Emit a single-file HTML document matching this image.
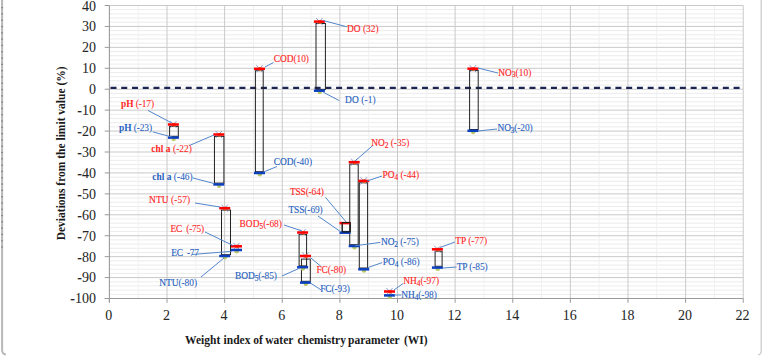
<!DOCTYPE html>
<html><head><meta charset="utf-8"><style>
html,body{margin:0;padding:0;background:#fff;}
body{width:763px;height:356px;position:relative;overflow:hidden;font-family:"Liberation Serif",serif;}
</style></head><body>
<svg width="763" height="356" viewBox="0 0 763 356" style="position:absolute;left:0;top:0"><rect x="0" y="0" width="763" height="356" fill="#ffffff"/><path d="M2.1,0 L2.1,350 Q2.1,354 6,354.5" stroke="#b8b8b8" stroke-width="2.0" fill="none"/><rect x="1.1" y="7.0" width="1.9" height="1.3" fill="#7a7a7a" opacity="0.8"/><rect x="1.1" y="13.3" width="1.9" height="1.3" fill="#7a7a7a" opacity="0.8"/><rect x="1.1" y="19.6" width="1.9" height="1.3" fill="#7a7a7a" opacity="0.8"/><rect x="1.1" y="25.9" width="1.9" height="1.3" fill="#7a7a7a" opacity="0.8"/><rect x="1.1" y="32.2" width="1.9" height="1.3" fill="#7a7a7a" opacity="0.8"/><rect x="1.1" y="38.5" width="1.9" height="1.3" fill="#7a7a7a" opacity="0.8"/><rect x="1.1" y="44.8" width="1.9" height="1.3" fill="#7a7a7a" opacity="0.8"/><rect x="1.1" y="51.1" width="1.9" height="1.3" fill="#7a7a7a" opacity="0.8"/><rect x="1.1" y="57.4" width="1.9" height="1.3" fill="#7a7a7a" opacity="0.8"/><rect x="1.1" y="63.7" width="1.9" height="1.3" fill="#7a7a7a" opacity="0.8"/><rect x="1.1" y="70.0" width="1.9" height="1.3" fill="#7a7a7a" opacity="0.8"/><rect x="1.1" y="76.3" width="1.9" height="1.3" fill="#7a7a7a" opacity="0.8"/><rect x="1.1" y="82.6" width="1.9" height="1.3" fill="#7a7a7a" opacity="0.8"/><rect x="1.1" y="88.9" width="1.9" height="1.3" fill="#7a7a7a" opacity="0.8"/><rect x="1.1" y="95.2" width="1.9" height="1.3" fill="#7a7a7a" opacity="0.8"/><rect x="1.1" y="101.5" width="1.9" height="1.3" fill="#7a7a7a" opacity="0.8"/><rect x="1.1" y="107.8" width="1.9" height="1.3" fill="#7a7a7a" opacity="0.8"/><rect x="1.1" y="114.1" width="1.9" height="1.3" fill="#7a7a7a" opacity="0.8"/><rect x="1.1" y="120.4" width="1.9" height="1.3" fill="#7a7a7a" opacity="0.8"/><rect x="1.1" y="126.7" width="1.9" height="1.3" fill="#7a7a7a" opacity="0.8"/><rect x="1.1" y="133.0" width="1.9" height="1.3" fill="#7a7a7a" opacity="0.8"/><rect x="1.1" y="139.3" width="1.9" height="1.3" fill="#7a7a7a" opacity="0.8"/><rect x="1.1" y="145.6" width="1.9" height="1.3" fill="#7a7a7a" opacity="0.8"/><rect x="1.1" y="151.9" width="1.9" height="1.3" fill="#7a7a7a" opacity="0.8"/><rect x="1.1" y="158.2" width="1.9" height="1.3" fill="#7a7a7a" opacity="0.8"/><rect x="1.1" y="164.5" width="1.9" height="1.3" fill="#7a7a7a" opacity="0.8"/><rect x="1.1" y="170.8" width="1.9" height="1.3" fill="#7a7a7a" opacity="0.8"/><rect x="1.1" y="177.1" width="1.9" height="1.3" fill="#7a7a7a" opacity="0.8"/><rect x="1.1" y="183.4" width="1.9" height="1.3" fill="#7a7a7a" opacity="0.8"/><rect x="1.1" y="189.7" width="1.9" height="1.3" fill="#7a7a7a" opacity="0.8"/><rect x="1.1" y="196.0" width="1.9" height="1.3" fill="#7a7a7a" opacity="0.8"/><rect x="1.1" y="202.3" width="1.9" height="1.3" fill="#7a7a7a" opacity="0.8"/><rect x="1.1" y="208.6" width="1.9" height="1.3" fill="#7a7a7a" opacity="0.8"/><rect x="1.1" y="214.9" width="1.9" height="1.3" fill="#7a7a7a" opacity="0.8"/><rect x="1.1" y="221.2" width="1.9" height="1.3" fill="#7a7a7a" opacity="0.8"/><rect x="1.1" y="227.5" width="1.9" height="1.3" fill="#7a7a7a" opacity="0.8"/><rect x="1.1" y="233.8" width="1.9" height="1.3" fill="#7a7a7a" opacity="0.8"/><rect x="1.1" y="240.1" width="1.9" height="1.3" fill="#7a7a7a" opacity="0.8"/><rect x="1.1" y="246.4" width="1.9" height="1.3" fill="#7a7a7a" opacity="0.8"/><path d="M761.2,0 L761.2,351 Q761.2,354.5 758,354.8" stroke="#c8c8c8" stroke-width="1.2" fill="none"/><line x1="109.40" y1="294.32" x2="743.22" y2="294.32" stroke="#ececec" stroke-width="1"/><line x1="109.40" y1="290.13" x2="743.22" y2="290.13" stroke="#ececec" stroke-width="1"/><line x1="109.40" y1="285.95" x2="743.22" y2="285.95" stroke="#ececec" stroke-width="1"/><line x1="109.40" y1="281.76" x2="743.22" y2="281.76" stroke="#ececec" stroke-width="1"/><line x1="109.40" y1="273.39" x2="743.22" y2="273.39" stroke="#ececec" stroke-width="1"/><line x1="109.40" y1="269.21" x2="743.22" y2="269.21" stroke="#ececec" stroke-width="1"/><line x1="109.40" y1="265.02" x2="743.22" y2="265.02" stroke="#ececec" stroke-width="1"/><line x1="109.40" y1="260.83" x2="743.22" y2="260.83" stroke="#ececec" stroke-width="1"/><line x1="109.40" y1="252.46" x2="743.22" y2="252.46" stroke="#ececec" stroke-width="1"/><line x1="109.40" y1="248.28" x2="743.22" y2="248.28" stroke="#ececec" stroke-width="1"/><line x1="109.40" y1="244.09" x2="743.22" y2="244.09" stroke="#ececec" stroke-width="1"/><line x1="109.40" y1="239.90" x2="743.22" y2="239.90" stroke="#ececec" stroke-width="1"/><line x1="109.40" y1="231.53" x2="743.22" y2="231.53" stroke="#ececec" stroke-width="1"/><line x1="109.40" y1="227.35" x2="743.22" y2="227.35" stroke="#ececec" stroke-width="1"/><line x1="109.40" y1="223.16" x2="743.22" y2="223.16" stroke="#ececec" stroke-width="1"/><line x1="109.40" y1="218.98" x2="743.22" y2="218.98" stroke="#ececec" stroke-width="1"/><line x1="109.40" y1="210.60" x2="743.22" y2="210.60" stroke="#ececec" stroke-width="1"/><line x1="109.40" y1="206.42" x2="743.22" y2="206.42" stroke="#ececec" stroke-width="1"/><line x1="109.40" y1="202.23" x2="743.22" y2="202.23" stroke="#ececec" stroke-width="1"/><line x1="109.40" y1="198.05" x2="743.22" y2="198.05" stroke="#ececec" stroke-width="1"/><line x1="109.40" y1="189.68" x2="743.22" y2="189.68" stroke="#ececec" stroke-width="1"/><line x1="109.40" y1="185.49" x2="743.22" y2="185.49" stroke="#ececec" stroke-width="1"/><line x1="109.40" y1="181.30" x2="743.22" y2="181.30" stroke="#ececec" stroke-width="1"/><line x1="109.40" y1="177.12" x2="743.22" y2="177.12" stroke="#ececec" stroke-width="1"/><line x1="109.40" y1="168.75" x2="743.22" y2="168.75" stroke="#ececec" stroke-width="1"/><line x1="109.40" y1="164.56" x2="743.22" y2="164.56" stroke="#ececec" stroke-width="1"/><line x1="109.40" y1="160.37" x2="743.22" y2="160.37" stroke="#ececec" stroke-width="1"/><line x1="109.40" y1="156.19" x2="743.22" y2="156.19" stroke="#ececec" stroke-width="1"/><line x1="109.40" y1="147.82" x2="743.22" y2="147.82" stroke="#ececec" stroke-width="1"/><line x1="109.40" y1="143.63" x2="743.22" y2="143.63" stroke="#ececec" stroke-width="1"/><line x1="109.40" y1="139.45" x2="743.22" y2="139.45" stroke="#ececec" stroke-width="1"/><line x1="109.40" y1="135.26" x2="743.22" y2="135.26" stroke="#ececec" stroke-width="1"/><line x1="109.40" y1="126.89" x2="743.22" y2="126.89" stroke="#ececec" stroke-width="1"/><line x1="109.40" y1="122.70" x2="743.22" y2="122.70" stroke="#ececec" stroke-width="1"/><line x1="109.40" y1="118.52" x2="743.22" y2="118.52" stroke="#ececec" stroke-width="1"/><line x1="109.40" y1="114.33" x2="743.22" y2="114.33" stroke="#ececec" stroke-width="1"/><line x1="109.40" y1="105.96" x2="743.22" y2="105.96" stroke="#ececec" stroke-width="1"/><line x1="109.40" y1="101.77" x2="743.22" y2="101.77" stroke="#ececec" stroke-width="1"/><line x1="109.40" y1="97.59" x2="743.22" y2="97.59" stroke="#ececec" stroke-width="1"/><line x1="109.40" y1="93.40" x2="743.22" y2="93.40" stroke="#ececec" stroke-width="1"/><line x1="109.40" y1="85.03" x2="743.22" y2="85.03" stroke="#ececec" stroke-width="1"/><line x1="109.40" y1="80.84" x2="743.22" y2="80.84" stroke="#ececec" stroke-width="1"/><line x1="109.40" y1="76.66" x2="743.22" y2="76.66" stroke="#ececec" stroke-width="1"/><line x1="109.40" y1="72.47" x2="743.22" y2="72.47" stroke="#ececec" stroke-width="1"/><line x1="109.40" y1="64.10" x2="743.22" y2="64.10" stroke="#ececec" stroke-width="1"/><line x1="109.40" y1="59.92" x2="743.22" y2="59.92" stroke="#ececec" stroke-width="1"/><line x1="109.40" y1="55.73" x2="743.22" y2="55.73" stroke="#ececec" stroke-width="1"/><line x1="109.40" y1="51.54" x2="743.22" y2="51.54" stroke="#ececec" stroke-width="1"/><line x1="109.40" y1="43.17" x2="743.22" y2="43.17" stroke="#ececec" stroke-width="1"/><line x1="109.40" y1="38.99" x2="743.22" y2="38.99" stroke="#ececec" stroke-width="1"/><line x1="109.40" y1="34.80" x2="743.22" y2="34.80" stroke="#ececec" stroke-width="1"/><line x1="109.40" y1="30.61" x2="743.22" y2="30.61" stroke="#ececec" stroke-width="1"/><line x1="109.40" y1="22.24" x2="743.22" y2="22.24" stroke="#ececec" stroke-width="1"/><line x1="109.40" y1="18.06" x2="743.22" y2="18.06" stroke="#ececec" stroke-width="1"/><line x1="109.40" y1="13.87" x2="743.22" y2="13.87" stroke="#ececec" stroke-width="1"/><line x1="109.40" y1="9.69" x2="743.22" y2="9.69" stroke="#ececec" stroke-width="1"/><line x1="138.21" y1="5.50" x2="138.21" y2="298.51" stroke="#f0f0f0" stroke-width="1"/><line x1="195.83" y1="5.50" x2="195.83" y2="298.51" stroke="#f0f0f0" stroke-width="1"/><line x1="253.45" y1="5.50" x2="253.45" y2="298.51" stroke="#f0f0f0" stroke-width="1"/><line x1="311.07" y1="5.50" x2="311.07" y2="298.51" stroke="#f0f0f0" stroke-width="1"/><line x1="368.69" y1="5.50" x2="368.69" y2="298.51" stroke="#f0f0f0" stroke-width="1"/><line x1="426.31" y1="5.50" x2="426.31" y2="298.51" stroke="#f0f0f0" stroke-width="1"/><line x1="483.93" y1="5.50" x2="483.93" y2="298.51" stroke="#f0f0f0" stroke-width="1"/><line x1="541.55" y1="5.50" x2="541.55" y2="298.51" stroke="#f0f0f0" stroke-width="1"/><line x1="599.17" y1="5.50" x2="599.17" y2="298.51" stroke="#f0f0f0" stroke-width="1"/><line x1="656.79" y1="5.50" x2="656.79" y2="298.51" stroke="#f0f0f0" stroke-width="1"/><line x1="714.41" y1="5.50" x2="714.41" y2="298.51" stroke="#f0f0f0" stroke-width="1"/><line x1="109.40" y1="277.58" x2="743.22" y2="277.58" stroke="#c9c9c9" stroke-width="1"/><line x1="109.40" y1="256.65" x2="743.22" y2="256.65" stroke="#c9c9c9" stroke-width="1"/><line x1="109.40" y1="235.72" x2="743.22" y2="235.72" stroke="#c9c9c9" stroke-width="1"/><line x1="109.40" y1="214.79" x2="743.22" y2="214.79" stroke="#c9c9c9" stroke-width="1"/><line x1="109.40" y1="193.86" x2="743.22" y2="193.86" stroke="#c9c9c9" stroke-width="1"/><line x1="109.40" y1="172.93" x2="743.22" y2="172.93" stroke="#c9c9c9" stroke-width="1"/><line x1="109.40" y1="152.00" x2="743.22" y2="152.00" stroke="#c9c9c9" stroke-width="1"/><line x1="109.40" y1="131.07" x2="743.22" y2="131.07" stroke="#c9c9c9" stroke-width="1"/><line x1="109.40" y1="110.15" x2="743.22" y2="110.15" stroke="#c9c9c9" stroke-width="1"/><line x1="109.40" y1="89.22" x2="743.22" y2="89.22" stroke="#c9c9c9" stroke-width="1"/><line x1="109.40" y1="68.29" x2="743.22" y2="68.29" stroke="#c9c9c9" stroke-width="1"/><line x1="109.40" y1="47.36" x2="743.22" y2="47.36" stroke="#c9c9c9" stroke-width="1"/><line x1="109.40" y1="26.43" x2="743.22" y2="26.43" stroke="#c9c9c9" stroke-width="1"/><line x1="109.40" y1="5.50" x2="743.22" y2="5.50" stroke="#c9c9c9" stroke-width="1"/><line x1="167.02" y1="5.50" x2="167.02" y2="298.51" stroke="#cacaca" stroke-width="1"/><line x1="224.64" y1="5.50" x2="224.64" y2="298.51" stroke="#cacaca" stroke-width="1"/><line x1="282.26" y1="5.50" x2="282.26" y2="298.51" stroke="#cacaca" stroke-width="1"/><line x1="339.88" y1="5.50" x2="339.88" y2="298.51" stroke="#cacaca" stroke-width="1"/><line x1="397.50" y1="5.50" x2="397.50" y2="298.51" stroke="#cacaca" stroke-width="1"/><line x1="455.12" y1="5.50" x2="455.12" y2="298.51" stroke="#cacaca" stroke-width="1"/><line x1="512.74" y1="5.50" x2="512.74" y2="298.51" stroke="#cacaca" stroke-width="1"/><line x1="570.36" y1="5.50" x2="570.36" y2="298.51" stroke="#cacaca" stroke-width="1"/><line x1="627.98" y1="5.50" x2="627.98" y2="298.51" stroke="#cacaca" stroke-width="1"/><line x1="685.60" y1="5.50" x2="685.60" y2="298.51" stroke="#cacaca" stroke-width="1"/><line x1="743.22" y1="5.50" x2="743.22" y2="298.51" stroke="#cacaca" stroke-width="1"/><line x1="109.40" y1="5.50" x2="109.40" y2="302.51" stroke="#9a9a9a" stroke-width="1.1"/><line x1="104.70" y1="298.51" x2="743.22" y2="298.51" stroke="#9a9a9a" stroke-width="1.1"/><line x1="104.70" y1="298.51" x2="109.40" y2="298.51" stroke="#9a9a9a" stroke-width="1"/><line x1="104.70" y1="277.58" x2="109.40" y2="277.58" stroke="#9a9a9a" stroke-width="1"/><line x1="104.70" y1="256.65" x2="109.40" y2="256.65" stroke="#9a9a9a" stroke-width="1"/><line x1="104.70" y1="235.72" x2="109.40" y2="235.72" stroke="#9a9a9a" stroke-width="1"/><line x1="104.70" y1="214.79" x2="109.40" y2="214.79" stroke="#9a9a9a" stroke-width="1"/><line x1="104.70" y1="193.86" x2="109.40" y2="193.86" stroke="#9a9a9a" stroke-width="1"/><line x1="104.70" y1="172.93" x2="109.40" y2="172.93" stroke="#9a9a9a" stroke-width="1"/><line x1="104.70" y1="152.00" x2="109.40" y2="152.00" stroke="#9a9a9a" stroke-width="1"/><line x1="104.70" y1="131.07" x2="109.40" y2="131.07" stroke="#9a9a9a" stroke-width="1"/><line x1="104.70" y1="110.15" x2="109.40" y2="110.15" stroke="#9a9a9a" stroke-width="1"/><line x1="104.70" y1="89.22" x2="109.40" y2="89.22" stroke="#9a9a9a" stroke-width="1"/><line x1="104.70" y1="68.29" x2="109.40" y2="68.29" stroke="#9a9a9a" stroke-width="1"/><line x1="104.70" y1="47.36" x2="109.40" y2="47.36" stroke="#9a9a9a" stroke-width="1"/><line x1="104.70" y1="26.43" x2="109.40" y2="26.43" stroke="#9a9a9a" stroke-width="1"/><line x1="104.70" y1="5.50" x2="109.40" y2="5.50" stroke="#9a9a9a" stroke-width="1"/><line x1="109.40" y1="298.51" x2="109.40" y2="302.81" stroke="#9a9a9a" stroke-width="1"/><line x1="167.02" y1="298.51" x2="167.02" y2="302.81" stroke="#9a9a9a" stroke-width="1"/><line x1="224.64" y1="298.51" x2="224.64" y2="302.81" stroke="#9a9a9a" stroke-width="1"/><line x1="282.26" y1="298.51" x2="282.26" y2="302.81" stroke="#9a9a9a" stroke-width="1"/><line x1="339.88" y1="298.51" x2="339.88" y2="302.81" stroke="#9a9a9a" stroke-width="1"/><line x1="397.50" y1="298.51" x2="397.50" y2="302.81" stroke="#9a9a9a" stroke-width="1"/><line x1="455.12" y1="298.51" x2="455.12" y2="302.81" stroke="#9a9a9a" stroke-width="1"/><line x1="512.74" y1="298.51" x2="512.74" y2="302.81" stroke="#9a9a9a" stroke-width="1"/><line x1="570.36" y1="298.51" x2="570.36" y2="302.81" stroke="#9a9a9a" stroke-width="1"/><line x1="627.98" y1="298.51" x2="627.98" y2="302.81" stroke="#9a9a9a" stroke-width="1"/><line x1="685.60" y1="298.51" x2="685.60" y2="302.81" stroke="#9a9a9a" stroke-width="1"/><line x1="743.22" y1="298.51" x2="743.22" y2="302.81" stroke="#9a9a9a" stroke-width="1"/><g font-family="Liberation Serif" font-size="14" fill="#262626" stroke="#262626" stroke-width="0.04"><text x="96" y="303.41" text-anchor="end">-100</text><text x="96" y="282.48" text-anchor="end">-90</text><text x="96" y="261.55" text-anchor="end">-80</text><text x="96" y="240.62" text-anchor="end">-70</text><text x="96" y="219.69" text-anchor="end">-60</text><text x="96" y="198.76" text-anchor="end">-50</text><text x="96" y="177.83" text-anchor="end">-40</text><text x="96" y="156.90" text-anchor="end">-30</text><text x="96" y="135.97" text-anchor="end">-20</text><text x="96" y="115.05" text-anchor="end">-10</text><text x="96" y="94.12" text-anchor="end">0</text><text x="96" y="73.19" text-anchor="end">10</text><text x="96" y="52.26" text-anchor="end">20</text><text x="96" y="31.33" text-anchor="end">30</text><text x="96" y="11.40" text-anchor="end">40</text><text x="108.80" y="319.8" text-anchor="middle">0</text><text x="166.42" y="319.8" text-anchor="middle">2</text><text x="224.04" y="319.8" text-anchor="middle">4</text><text x="281.66" y="319.8" text-anchor="middle">6</text><text x="339.28" y="319.8" text-anchor="middle">8</text><text x="396.90" y="319.8" text-anchor="middle">10</text><text x="454.52" y="319.8" text-anchor="middle">12</text><text x="512.14" y="319.8" text-anchor="middle">14</text><text x="569.76" y="319.8" text-anchor="middle">16</text><text x="627.38" y="319.8" text-anchor="middle">18</text><text x="685.00" y="319.8" text-anchor="middle">20</text><text x="742.62" y="319.8" text-anchor="middle">22</text></g><text y="343.5" font-family="Liberation Serif" font-weight="bold" font-size="11.5" fill="#1a1a1a"><tspan x="185.1">Weight</tspan><tspan x="223.6">index</tspan><tspan x="253.3">of</tspan><tspan x="265.3">water</tspan><tspan x="297.4">chemistry</tspan><tspan x="348.0">parameter</tspan><tspan x="404.0">(WI)</tspan></text><text transform="translate(65.4,240.3) rotate(-90)" x="0" y="0" font-family="Liberation Serif" font-weight="bold" font-size="11.5" fill="#1a1a1a">Deviations from the limit value (%)</text><line x1="110.5" y1="87.9" x2="742" y2="87.9" stroke="#1c2552" stroke-width="2.2" stroke-dasharray="6 4.743"/><rect x="301.45" y="259.10" width="8.85" height="22.20" fill="none" stroke="#222222" stroke-width="1.0"/><rect x="169.60" y="126.40" width="8.70" height="9.90" fill="none" stroke="#222222" stroke-width="1.0"/><rect x="214.45" y="136.40" width="9.45" height="46.70" fill="none" stroke="#222222" stroke-width="1.0"/><rect x="221.50" y="210.10" width="9.00" height="44.60" fill="none" stroke="#222222" stroke-width="1.0"/><rect x="255.40" y="70.70" width="7.80" height="101.00" fill="none" stroke="#222222" stroke-width="1.0"/><rect x="316.00" y="23.50" width="9.40" height="65.90" fill="none" stroke="#222222" stroke-width="1.0"/><rect x="299.10" y="234.40" width="7.50" height="31.50" fill="none" stroke="#222222" stroke-width="1.0"/><rect x="342.20" y="223.30" width="8.00" height="8.10" fill="none" stroke="#222222" stroke-width="1.0"/><rect x="349.75" y="164.10" width="8.45" height="80.60" fill="none" stroke="#222222" stroke-width="1.0"/><rect x="359.30" y="182.80" width="8.30" height="85.20" fill="none" stroke="#222222" stroke-width="1.0"/><rect x="435.10" y="251.20" width="7.00" height="15.10" fill="none" stroke="#222222" stroke-width="1.0"/><rect x="469.60" y="70.60" width="8.60" height="58.90" fill="none" stroke="#222222" stroke-width="1.0"/><path d="M170.20,120.90 L176.60,128.10 M176.60,120.90 L170.20,128.10" stroke="#7c88c0" stroke-width="0.8" fill="none"/><circle cx="174.00" cy="124.80" r="2.0" fill="#e8772e"/><rect x="167.90" y="123.25" width="11.00" height="2.5" fill="#ff0000"/><circle cx="173.70" cy="138.90" r="2.2" fill="#b9c964"/><rect x="167.90" y="136.35" width="11.00" height="2.5" fill="#0a3fbf"/><path d="M215.60,130.90 L222.00,138.10 M222.00,130.90 L215.60,138.10" stroke="#7c88c0" stroke-width="0.8" fill="none"/><circle cx="219.40" cy="134.80" r="2.0" fill="#e8772e"/><rect x="213.30" y="133.25" width="11.00" height="2.5" fill="#ff0000"/><circle cx="219.10" cy="185.70" r="2.2" fill="#b9c964"/><rect x="213.30" y="183.15" width="11.00" height="2.5" fill="#0a3fbf"/><path d="M221.50,204.60 L227.90,211.80 M227.90,204.60 L221.50,211.80" stroke="#7c88c0" stroke-width="0.8" fill="none"/><circle cx="225.30" cy="208.50" r="2.0" fill="#e8772e"/><rect x="219.20" y="206.95" width="11.00" height="2.5" fill="#ff0000"/><circle cx="225.00" cy="257.30" r="2.2" fill="#b9c964"/><rect x="219.20" y="254.75" width="11.00" height="2.5" fill="#0a3fbf"/><path d="M233.30,242.70 L239.70,249.90 M239.70,242.70 L233.30,249.90" stroke="#7c88c0" stroke-width="0.8" fill="none"/><circle cx="237.10" cy="246.60" r="2.0" fill="#e8772e"/><rect x="231.00" y="245.05" width="11.00" height="2.5" fill="#ff0000"/><circle cx="236.80" cy="251.30" r="2.2" fill="#b9c964"/><rect x="231.00" y="248.75" width="11.00" height="2.5" fill="#0a3fbf"/><path d="M256.30,65.20 L262.70,72.40 M262.70,65.20 L256.30,72.40" stroke="#7c88c0" stroke-width="0.8" fill="none"/><circle cx="260.10" cy="69.10" r="2.0" fill="#e8772e"/><rect x="254.00" y="67.55" width="11.00" height="2.5" fill="#ff0000"/><circle cx="259.80" cy="174.30" r="2.2" fill="#b9c964"/><rect x="254.00" y="171.75" width="11.00" height="2.5" fill="#0a3fbf"/><path d="M316.20,18.00 L322.60,25.20 M322.60,18.00 L316.20,25.20" stroke="#7c88c0" stroke-width="0.8" fill="none"/><circle cx="320.00" cy="21.90" r="2.0" fill="#e8772e"/><rect x="313.90" y="20.35" width="11.00" height="2.5" fill="#ff0000"/><circle cx="319.70" cy="92.00" r="2.2" fill="#b9c964"/><rect x="313.90" y="89.45" width="11.00" height="2.5" fill="#0a3fbf"/><path d="M299.40,228.90 L305.80,236.10 M305.80,228.90 L299.40,236.10" stroke="#7c88c0" stroke-width="0.8" fill="none"/><circle cx="303.20" cy="232.80" r="2.0" fill="#e8772e"/><rect x="297.10" y="231.25" width="11.00" height="2.5" fill="#ff0000"/><circle cx="302.90" cy="268.50" r="2.2" fill="#b9c964"/><rect x="297.10" y="265.95" width="11.00" height="2.5" fill="#0a3fbf"/><path d="M302.30,252.40 L308.70,259.60 M308.70,252.40 L302.30,259.60" stroke="#7c88c0" stroke-width="0.8" fill="none"/><circle cx="306.10" cy="256.30" r="2.0" fill="#e8772e"/><rect x="300.00" y="254.75" width="11.00" height="2.5" fill="#ff0000"/><circle cx="305.80" cy="283.90" r="2.2" fill="#b9c964"/><rect x="300.00" y="281.35" width="11.00" height="2.5" fill="#0a3fbf"/><rect x="339.50" y="221.85" width="11.00" height="2.5" fill="#ff0000"/><rect x="339.50" y="231.45" width="11.00" height="2.5" fill="#0a3fbf"/><path d="M351.00,158.60 L357.40,165.80 M357.40,158.60 L351.00,165.80" stroke="#7c88c0" stroke-width="0.8" fill="none"/><circle cx="354.80" cy="162.50" r="2.0" fill="#e8772e"/><rect x="348.70" y="160.95" width="11.00" height="2.5" fill="#ff0000"/><circle cx="354.50" cy="247.30" r="2.2" fill="#b9c964"/><rect x="348.70" y="244.75" width="11.00" height="2.5" fill="#0a3fbf"/><path d="M360.50,177.30 L366.90,184.50 M366.90,177.30 L360.50,184.50" stroke="#7c88c0" stroke-width="0.8" fill="none"/><circle cx="364.30" cy="181.20" r="2.0" fill="#e8772e"/><rect x="358.20" y="179.65" width="11.00" height="2.5" fill="#ff0000"/><circle cx="364.00" cy="270.60" r="2.2" fill="#b9c964"/><rect x="358.20" y="268.05" width="11.00" height="2.5" fill="#0a3fbf"/><path d="M386.30,287.90 L392.70,295.10 M392.70,287.90 L386.30,295.10" stroke="#7c88c0" stroke-width="0.8" fill="none"/><circle cx="390.10" cy="291.80" r="2.0" fill="#e8772e"/><rect x="384.00" y="290.25" width="11.00" height="2.5" fill="#ff0000"/><circle cx="389.80" cy="296.70" r="2.2" fill="#b9c964"/><rect x="384.00" y="294.15" width="11.00" height="2.5" fill="#0a3fbf"/><path d="M434.20,245.70 L440.60,252.90 M440.60,245.70 L434.20,252.90" stroke="#7c88c0" stroke-width="0.8" fill="none"/><circle cx="438.00" cy="249.60" r="2.0" fill="#e8772e"/><rect x="431.90" y="248.05" width="11.00" height="2.5" fill="#ff0000"/><circle cx="437.70" cy="268.90" r="2.2" fill="#b9c964"/><rect x="431.90" y="266.35" width="11.00" height="2.5" fill="#0a3fbf"/><path d="M469.70,65.10 L476.10,72.30 M476.10,65.10 L469.70,72.30" stroke="#7c88c0" stroke-width="0.8" fill="none"/><circle cx="473.50" cy="69.00" r="2.0" fill="#e8772e"/><rect x="467.40" y="67.45" width="11.00" height="2.5" fill="#ff0000"/><circle cx="473.20" cy="132.10" r="2.2" fill="#b9c964"/><rect x="467.40" y="129.55" width="11.00" height="2.5" fill="#0a3fbf"/><rect x="342.2" y="222.6" width="8.0" height="9.3" fill="none" stroke="#1a1a1a" stroke-width="1.1"/><line x1="147.9" y1="110.4" x2="171.8" y2="123.0" stroke="#5286cc" stroke-width="1"/><line x1="152.8" y1="131.9" x2="171.8" y2="137.0" stroke="#5286cc" stroke-width="1"/><line x1="189.2" y1="145.6" x2="214.0" y2="135.0" stroke="#5286cc" stroke-width="1"/><line x1="193.0" y1="178.0" x2="214.0" y2="183.5" stroke="#5286cc" stroke-width="1"/><line x1="195.0" y1="203.0" x2="220.0" y2="207.0" stroke="#5286cc" stroke-width="1"/><line x1="205.0" y1="232.0" x2="233.0" y2="245.5" stroke="#5286cc" stroke-width="1"/><line x1="192.0" y1="254.5" x2="232.0" y2="251.3" stroke="#5286cc" stroke-width="1"/><line x1="201.0" y1="277.0" x2="224.0" y2="258.0" stroke="#5286cc" stroke-width="1"/><line x1="265.0" y1="67.0" x2="273.5" y2="62.5" stroke="#5286cc" stroke-width="1"/><line x1="263.5" y1="172.0" x2="277.0" y2="166.5" stroke="#5286cc" stroke-width="1"/><line x1="323.2" y1="20.5" x2="346.8" y2="26.8" stroke="#5286cc" stroke-width="1"/><line x1="323.3" y1="92.3" x2="339.3" y2="100.6" stroke="#5286cc" stroke-width="1"/><line x1="284.0" y1="225.0" x2="302.0" y2="231.0" stroke="#5286cc" stroke-width="1"/><line x1="282.0" y1="276.0" x2="300.0" y2="268.0" stroke="#5286cc" stroke-width="1"/><line x1="310.7" y1="257.8" x2="320.9" y2="266.4" stroke="#5286cc" stroke-width="1"/><line x1="310.1" y1="282.8" x2="320.9" y2="289.8" stroke="#5286cc" stroke-width="1"/><line x1="325.5" y1="197.4" x2="346.2" y2="222.0" stroke="#5286cc" stroke-width="1"/><line x1="318.0" y1="216.0" x2="341.0" y2="232.0" stroke="#5286cc" stroke-width="1"/><line x1="372.8" y1="145.5" x2="355.0" y2="161.0" stroke="#5286cc" stroke-width="1"/><line x1="382.0" y1="176.0" x2="367.0" y2="181.0" stroke="#5286cc" stroke-width="1"/><line x1="355.0" y1="245.8" x2="380.3" y2="242.4" stroke="#5286cc" stroke-width="1"/><line x1="367.6" y1="267.7" x2="382.2" y2="262.6" stroke="#5286cc" stroke-width="1"/><line x1="394.0" y1="290.0" x2="403.0" y2="283.5" stroke="#5286cc" stroke-width="1"/><line x1="394.0" y1="295.0" x2="401.5" y2="295.0" stroke="#5286cc" stroke-width="1"/><line x1="440.0" y1="247.5" x2="455.0" y2="242.0" stroke="#5286cc" stroke-width="1"/><line x1="443.0" y1="268.0" x2="456.7" y2="267.0" stroke="#5286cc" stroke-width="1"/><line x1="478.0" y1="68.0" x2="498.0" y2="73.0" stroke="#5286cc" stroke-width="1"/><line x1="478.0" y1="131.0" x2="497.0" y2="129.0" stroke="#5286cc" stroke-width="1"/><g font-family="Liberation Serif" font-size="9.4" style="white-space:pre"><text x="121.0" y="106.5" fill="#ff1e1e" stroke="#ff1e1e" stroke-width="0.06" xml:space="preserve" textLength="33.1" lengthAdjust="spacing"><tspan font-weight="bold" stroke-width="0">pH</tspan><tspan> (-17)</tspan></text><text x="119.1" y="130.6" fill="#1f5fc0" stroke="#1f5fc0" stroke-width="0.06" xml:space="preserve" textLength="32.9" lengthAdjust="spacing"><tspan font-weight="bold" stroke-width="0">pH</tspan><tspan> (-23)</tspan></text><text x="151.3" y="151.5" fill="#ff1e1e" stroke="#ff1e1e" stroke-width="0.06" xml:space="preserve" textLength="40.6" lengthAdjust="spacing"><tspan font-weight="bold" stroke-width="0">chl a</tspan><tspan> (-22)</tspan></text><text x="152.3" y="179.5" fill="#1f5fc0" stroke="#1f5fc0" stroke-width="0.06" xml:space="preserve" textLength="40.4" lengthAdjust="spacing"><tspan font-weight="bold" stroke-width="0">chl a</tspan><tspan> (-46)</tspan></text><text x="149.1" y="202.7" fill="#ff1e1e" stroke="#ff1e1e" stroke-width="0.06" xml:space="preserve" textLength="41.0" lengthAdjust="spacing"><tspan font-weight="normal" stroke-width="0.15">NTU</tspan><tspan> (-57)</tspan></text><text x="170.4" y="231.9" fill="#ff1e1e" stroke="#ff1e1e" stroke-width="0.06" xml:space="preserve" textLength="33.8" lengthAdjust="spacing"><tspan font-weight="normal" stroke-width="0.15">EC</tspan><tspan>  (-75)</tspan></text><text x="171.2" y="256.3" fill="#1f5fc0" stroke="#1f5fc0" stroke-width="0.06" xml:space="preserve" textLength="27.7" lengthAdjust="spacing"><tspan font-weight="normal" stroke-width="0.15">EC</tspan><tspan>  -77</tspan></text><text x="159.2" y="285.7" fill="#1f5fc0" stroke="#1f5fc0" stroke-width="0.06" xml:space="preserve" textLength="37.8" lengthAdjust="spacing"><tspan font-weight="normal" stroke-width="0.15">NTU</tspan><tspan>(-80)</tspan></text><text x="273.7" y="61.6" fill="#ff1e1e" stroke="#ff1e1e" stroke-width="0.06" xml:space="preserve" textLength="35.2" lengthAdjust="spacing"><tspan font-weight="normal" stroke-width="0.15">COD</tspan><tspan>(10)</tspan></text><text x="273.7" y="164.7" fill="#1f5fc0" stroke="#1f5fc0" stroke-width="0.06" xml:space="preserve" textLength="38.3" lengthAdjust="spacing"><tspan font-weight="normal" stroke-width="0.15">COD</tspan><tspan>(-40)</tspan></text><text x="347.1" y="31.5" fill="#ff1e1e" stroke="#ff1e1e" stroke-width="0.06" xml:space="preserve" textLength="31.4" lengthAdjust="spacing"><tspan font-weight="normal" stroke-width="0.15">DO</tspan><tspan> (32)</tspan></text><text x="345.1" y="103.3" fill="#1f5fc0" stroke="#1f5fc0" stroke-width="0.06" xml:space="preserve" textLength="30.6" lengthAdjust="spacing"><tspan font-weight="normal" stroke-width="0.15">DO</tspan><tspan> (-1)</tspan></text><text x="239.6" y="226.7" fill="#ff1e1e" stroke="#ff1e1e" stroke-width="0.06" xml:space="preserve" textLength="42.3" lengthAdjust="spacing"><tspan font-weight="normal" stroke-width="0.15">BOD</tspan><tspan font-weight="normal" stroke-width="0.15" font-size="7.33" dy="1.8">5</tspan><tspan dy="-1.8">(-68)</tspan></text><text x="235.0" y="279.4" fill="#1f5fc0" stroke="#1f5fc0" stroke-width="0.06" xml:space="preserve" textLength="41.9" lengthAdjust="spacing"><tspan font-weight="normal" stroke-width="0.15">BOD</tspan><tspan font-weight="normal" stroke-width="0.15" font-size="7.33" dy="1.8">5</tspan><tspan dy="-1.8">(-85)</tspan></text><text x="316.4" y="273.3" fill="#ff1e1e" stroke="#ff1e1e" stroke-width="0.06" xml:space="preserve" textLength="29.7" lengthAdjust="spacing"><tspan font-weight="normal" stroke-width="0.15">FC</tspan><tspan>(-80)</tspan></text><text x="320.2" y="291.7" fill="#1f5fc0" stroke="#1f5fc0" stroke-width="0.06" xml:space="preserve" textLength="29.7" lengthAdjust="spacing"><tspan font-weight="normal" stroke-width="0.15">FC</tspan><tspan>(-93)</tspan></text><text x="289.9" y="195.2" fill="#ff1e1e" stroke="#ff1e1e" stroke-width="0.06" xml:space="preserve" textLength="33.9" lengthAdjust="spacing"><tspan font-weight="normal" stroke-width="0.15">TSS</tspan><tspan>(-64)</tspan></text><text x="288.4" y="213.1" fill="#1f5fc0" stroke="#1f5fc0" stroke-width="0.06" xml:space="preserve" textLength="34.3" lengthAdjust="spacing"><tspan font-weight="normal" stroke-width="0.15">TSS</tspan><tspan>(-69)</tspan></text><text x="371.2" y="146.2" fill="#ff1e1e" stroke="#ff1e1e" stroke-width="0.06" xml:space="preserve" textLength="38.2" lengthAdjust="spacing"><tspan font-weight="normal" stroke-width="0.15">NO</tspan><tspan font-weight="normal" stroke-width="0.15" font-size="7.33" dy="1.8">2</tspan><tspan dy="-1.8"> (-35)</tspan></text><text x="382.5" y="178.2" fill="#ff1e1e" stroke="#ff1e1e" stroke-width="0.06" xml:space="preserve" textLength="36.6" lengthAdjust="spacing"><tspan font-weight="normal" stroke-width="0.15">PO</tspan><tspan font-weight="normal" stroke-width="0.15" font-size="7.33" dy="1.8">4</tspan><tspan dy="-1.8"> (-44)</tspan></text><text x="380.9" y="245.2" fill="#1f5fc0" stroke="#1f5fc0" stroke-width="0.06" xml:space="preserve" textLength="37.9" lengthAdjust="spacing"><tspan font-weight="normal" stroke-width="0.15">NO</tspan><tspan font-weight="normal" stroke-width="0.15" font-size="7.33" dy="1.8">2</tspan><tspan dy="-1.8"> (-75)</tspan></text><text x="382.8" y="264.8" fill="#1f5fc0" stroke="#1f5fc0" stroke-width="0.06" xml:space="preserve" textLength="36.7" lengthAdjust="spacing"><tspan font-weight="normal" stroke-width="0.15">PO</tspan><tspan font-weight="normal" stroke-width="0.15" font-size="7.33" dy="1.8">4</tspan><tspan dy="-1.8"> (-86)</tspan></text><text x="403.3" y="284.2" fill="#ff1e1e" stroke="#ff1e1e" stroke-width="0.06" xml:space="preserve" textLength="35.7" lengthAdjust="spacing"><tspan font-weight="normal" stroke-width="0.15">NH</tspan><tspan font-weight="normal" stroke-width="0.15" font-size="7.33" dy="1.8">4</tspan><tspan dy="-1.8">(-97)</tspan></text><text x="401.2" y="298.3" fill="#1f5fc0" stroke="#1f5fc0" stroke-width="0.06" xml:space="preserve" textLength="35.6" lengthAdjust="spacing"><tspan font-weight="normal" stroke-width="0.15">NH</tspan><tspan font-weight="normal" stroke-width="0.15" font-size="7.33" dy="1.8">4</tspan><tspan dy="-1.8">(-98)</tspan></text><text x="455.2" y="244.2" fill="#ff1e1e" stroke="#ff1e1e" stroke-width="0.06" xml:space="preserve" textLength="31.8" lengthAdjust="spacing"><tspan font-weight="normal" stroke-width="0.15">TP</tspan><tspan> (-77)</tspan></text><text x="456.7" y="270.2" fill="#1f5fc0" stroke="#1f5fc0" stroke-width="0.06" xml:space="preserve" textLength="30.9" lengthAdjust="spacing"><tspan font-weight="normal" stroke-width="0.15">TP</tspan><tspan> (-85)</tspan></text><text x="498.2" y="75.6" fill="#ff1e1e" stroke="#ff1e1e" stroke-width="0.06" xml:space="preserve" textLength="33.2" lengthAdjust="spacing"><tspan font-weight="normal" stroke-width="0.15">NO</tspan><tspan font-weight="normal" stroke-width="0.15" font-size="7.33" dy="1.8">3</tspan><tspan dy="-1.8">(10)</tspan></text><text x="497.5" y="131.4" fill="#1f5fc0" stroke="#1f5fc0" stroke-width="0.06" xml:space="preserve" textLength="35.1" lengthAdjust="spacing"><tspan font-weight="normal" stroke-width="0.15">NO</tspan><tspan font-weight="normal" stroke-width="0.15" font-size="7.33" dy="1.8">3</tspan><tspan dy="-1.8">(-20)</tspan></text></g></svg>
</body></html>
